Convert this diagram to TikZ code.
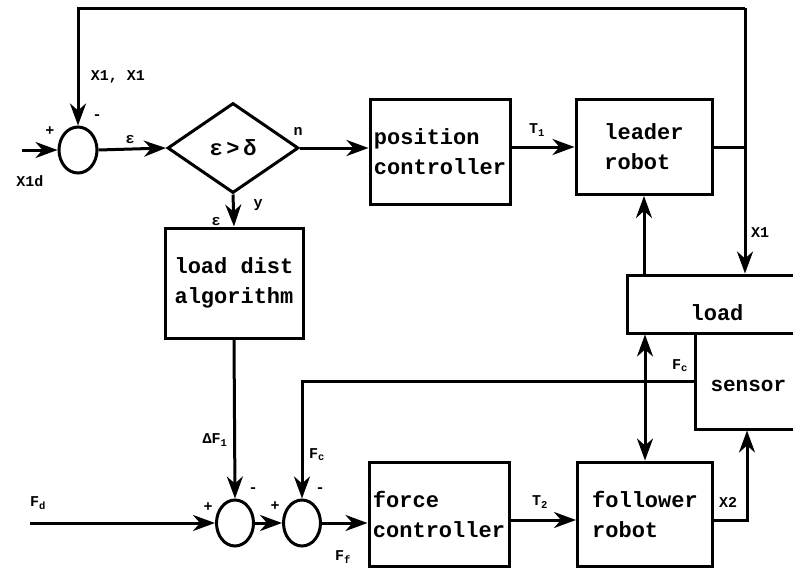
\documentclass[tikz,border=0pt]{standalone}
\usepackage{fontspec}
\setmainfont{Liberation Mono}
\usetikzlibrary{arrows.meta,shapes.geometric}
\begin{document}
\begin{tikzpicture}[x=1pt,y=-1pt,
  line width=3pt,
  tipshape/.tip={Stealth[length=22pt,width=16pt,inset=7pt]},
  arr/.style={-tipshape},
  dblarr/.style={tipshape-tipshape},
  blk/.style={draw,rectangle,inner sep=0pt,font=\bfseries\fontsize{22}{30}\selectfont,align=left},
  sumnode/.style={draw,ellipse,inner sep=0pt,minimum width=37pt,minimum height=46pt},
  lbl/.style={inner sep=0pt,font=\bfseries\fontsize{15}{16}\selectfont}]
\useasboundingbox (0,0) rectangle (793,573);

% blocks
\node[blk,minimum width=140pt,minimum height=105pt] (pc) at (440,152) {position\\controller};
\node[blk,minimum width=136pt,minimum height=95pt] (lr) at (644,147) {leader\\robot};
\node[blk,minimum width=138pt,minimum height=110pt] (ld) at (234,283) {load dist\\algorithm};
\node[blk,minimum width=140pt,minimum height=104pt] (fc) at (439,514) {force\\controller};
\node[blk,minimum width=135pt,minimum height=104pt] (fr) at (645,514) {follower\\robot};
\node[blk,minimum width=200pt,minimum height=58pt] (load) at (727,304) {};
\node[blk,minimum width=140pt,minimum height=96pt] (sensor) at (765,381) {};
\node[lbl,font=\bfseries\fontsize{22}{30}\selectfont] (loadtxt) at (717,313) {load};
\node[lbl,font=\bfseries\fontsize{21}{30}\selectfont,anchor=west] (sensortxt) at (709,386) {sensor};

% decision
\node[draw,diamond,inner sep=0pt,minimum width=131pt,minimum height=90pt,
      font=\bfseries\fontsize{22}{30}\selectfont] (dia) at (233,148) {ε\,>\,δ};

% summing junctions
\node[sumnode,minimum width=38pt] (s1) at (78,150) {};
\node[sumnode] (s2) at (235,523) {};
\node[sumnode] (s3) at (302,523) {};

% free ends and corners
\coordinate (tl) at (78,8);
\coordinate (tr) at (745,8);
\coordinate (in1) at (22,150);
\coordinate (fdin) at (30,523);
\coordinate (x2c) at (747,520);

% position loop
\draw[arr] (in1) -- (s1.west);
\draw[arr] (s1.east) -- (dia.west);
\draw[arr] (dia.east) -- (dia.east -| pc.west);
\draw[arr] (lr.west -| pc.east) -- (lr.west);
\draw (lr.east) -- (lr.east -| tr);
\draw[arr] (tr) -- (tl) -- (s1.north);
\draw[arr] (tr) -- (tr |- load.north);
\draw[arr] (dia.south) -- (ld.north);
\draw[arr] (lr.south |- load.north) -- (lr.south);

% force loop
\draw[arr] (ld.south) -- (s2.north);
\draw[arr] (fdin) -- (s2.west);
\draw[arr] (s2.east) -- (s3.west);
\draw[arr] (s3.east) -- (s3.east -| fc.west);
\draw[arr] (x2c -| fc.east) -- (x2c -| fr.west);
\draw[arr] (x2c -| fr.east) -- (x2c) -- (x2c |- sensor.south);
\draw[arr] (sensor.west) -- (sensor.west -| s3.north) -- (s3.north);
\draw[dblarr] (fr.north |- load.south) -- (fr.north);

% signal labels
\node[lbl] (lx1) at (118,77) {X1, X1};
\node[lbl] (p1) at (50,131) {+};
\node[lbl] (m1) at (97,117) {-};
\node[lbl] (lx1d) at (30,181) {X1d};
\node[lbl] (le1) at (130,140) {ε};
\node[lbl] (ln) at (298,131) {n};
\node[lbl] (ly) at (258,205) {y};
\node[lbl] (le2) at (216,222) {ε};
\node[lbl] (lt1) at (537,130) {T\textsubscript{1}};
\node[lbl] (lx1b) at (760,233) {X1};
\node[lbl] (lfc1) at (680,366) {F\textsubscript{c}};
\node[lbl] (ldf) at (215,440) {ΔF\textsubscript{1}};
\node[lbl] (lfc2) at (317,455) {F\textsubscript{c}};
\node[lbl] (lfd) at (38,503) {F\textsubscript{d}};
\node[lbl] (p2) at (208,507) {+};
\node[lbl] (m2) at (253,490) {-};
\node[lbl] (p3) at (275,506) {+};
\node[lbl] (m3) at (320,490) {-};
\node[lbl] (lff) at (343,557) {F\textsubscript{f}};
\node[lbl] (lt2) at (540,502) {T\textsubscript{2}};
\node[lbl] (lx2) at (728,502) {X2};
\end{tikzpicture}
\end{document}
